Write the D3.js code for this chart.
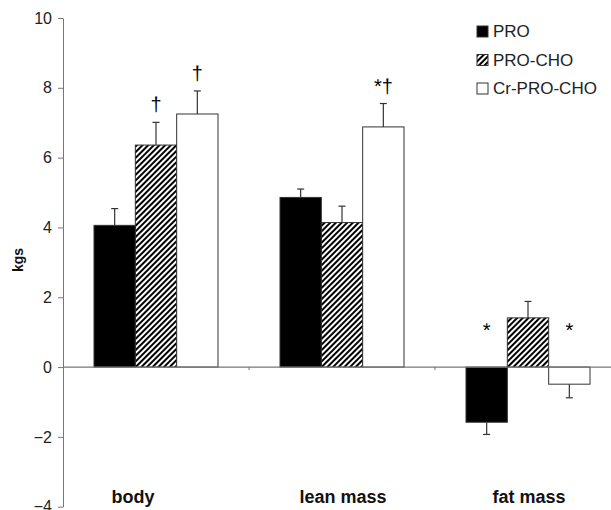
<!DOCTYPE html>
<html>
<head>
<meta charset="utf-8">
<script src="https://cdn.jsdelivr.net/npm/d3@7"></script>
<style>
  body { margin: 0; background: #fff; }
  svg { display: block; font-family: "Liberation Sans", Arial, sans-serif; }
</style>
</head>
<body>
<div id="chart"></div>
<script>
// chart values
const categories = ["body", "lean mass", "fat mass"];
const seriesNames = ["PRO", "PRO-CHO", "Cr-PRO-CHO"];

const proValues = [4.06, 4.86, -1.58];
const proErrors = [0.48, 0.24, 0.35];
const proChoValues = [6.36, 4.14, 1.41];
const proChoErrors = [0.65, 0.47, 0.47];
const crProChoValues = [7.25, 6.88, -0.49];
const crProChoErrors = [0.66, 0.67, 0.39];

// significance marks above the bars
const proMarks = ["", "", "*"];
const proChoMarks = ["\u2020", "", ""];
const crProChoMarks = ["\u2020", "*\u2020", "*"];

const yTicks = [-4, -2, 0, 2, 4, 6, 8, 10];

const width = 611;
const height = 510;

const svg = d3.select("#chart")
  .append("svg")
  .attr("width", width)
  .attr("height", height);

// hatch for the PRO-CHO series
svg.append("defs")
  .append("pattern")
  .attr("id", "hatch")
  .attr("patternUnits", "userSpaceOnUse")
  .attr("width", 4)
  .attr("height", 4)
  .attr("patternTransform", "rotate(45)")
  .append("rect")
  .attr("width", 2)
  .attr("height", 4)
  .attr("fill", "#000");

const fills = ["#000", "url(#hatch)", "#fff"];

const series = seriesNames.map((name, i) => ({
  name: name,
  fill: fills[i],
  values: [proValues, proChoValues, crProChoValues][i],
  errors: [proErrors, proChoErrors, crProChoErrors][i],
  marks: [proMarks, proChoMarks, crProChoMarks][i]
}));

const y = d3.scaleLinear().domain([-4, 10]).range([506.7, 18]);

const x0 = d3.scaleBand()
  .domain(categories)
  .range([63, 621])
  .padding(0);

const groupWidth = 124;
const x1 = d3.scaleBand()
  .domain(seriesNames)
  .range([0, groupWidth]);
const groupOffset = (x0.bandwidth() - groupWidth) / 2;

// y axis
const yAxis = svg.append("g")
  .attr("transform", "translate(63,0)")
  .call(d3.axisLeft(y).tickValues(yTicks).tickSize(5).tickPadding(6).tickSizeOuter(0));
yAxis.select(".domain").attr("stroke", "#777");
yAxis.selectAll(".tick line").attr("stroke", "#777");
yAxis.selectAll(".tick text")
  .attr("fill", "#222")
  .style("font-size", "16px")
  .style("font-family", "Liberation Sans, Arial, sans-serif");

svg.append("text")
  .attr("transform", "rotate(-90)")
  .attr("x", -260)
  .attr("y", 23)
  .attr("text-anchor", "middle")
  .attr("font-size", "14px")
  .attr("font-weight", "bold")
  .attr("fill", "#111")
  .text("kgs");

// bars
const groups = svg.selectAll("g.group")
  .data(categories)
  .enter()
  .append("g")
  .attr("class", "group")
  .attr("transform", (d) => `translate(${x0(d) + groupOffset},0)`);

groups.each(function (cat, ci) {
  const g = d3.select(this);
  series.forEach((s) => {
    const v = s.values[ci];
    const e = s.errors[ci];
    const bx = x1(s.name);
    const bw = x1.bandwidth();
    const cx = bx + bw / 2;

    g.append("rect")
      .attr("x", bx)
      .attr("y", y(Math.max(0, v)))
      .attr("width", bw)
      .attr("height", Math.abs(y(v) - y(0)))
      .attr("fill", s.fill)
      .attr("stroke", "#333")
      .attr("stroke-width", 1);

    // one-sided error bar
    const tip = v >= 0 ? v + e : v - e;
    g.append("line")
      .attr("x1", cx).attr("x2", cx)
      .attr("y1", y(v)).attr("y2", y(tip))
      .attr("stroke", "#333")
      .attr("stroke-width", 1.2);
    g.append("line")
      .attr("x1", cx - 3.5).attr("x2", cx + 3.5)
      .attr("y1", y(tip)).attr("y2", y(tip))
      .attr("stroke", "#333")
      .attr("stroke-width", 1.2);

    const mark = s.marks[ci];
    if (mark) {
      const markY = v >= 0 ? y(v + e) - 11 : y(0) - 30;
      g.append("text")
        .attr("x", cx)
        .attr("y", markY)
        .attr("text-anchor", "middle")
        .attr("font-family", "Liberation Sans, Arial, sans-serif")
        .attr("font-size", "20px")
        .attr("fill", "#000")
        .style("text-rendering", "geometricPrecision")
        .text(mark);
    }
  });
});

// zero line with small ticks between categories
svg.append("line")
  .attr("x1", 63).attr("x2", width)
  .attr("y1", y(0)).attr("y2", y(0))
  .attr("stroke", "#777")
  .attr("stroke-width", 1.2);

svg.selectAll("line.sep")
  .data(categories.slice(1))
  .enter()
  .append("line")
  .attr("class", "sep")
  .attr("x1", (d) => x0(d)).attr("x2", (d) => x0(d))
  .attr("y1", y(0)).attr("y2", y(0) + 3)
  .attr("stroke", "#777");

// category labels
const labelDx = [-23, 1, 1];
svg.selectAll("text.cat")
  .data(categories)
  .enter()
  .append("text")
  .attr("class", "cat")
  .attr("x", (d, i) => x0(d) + x0.bandwidth() / 2 + labelDx[i])
  .attr("y", 503)
  .attr("text-anchor", "middle")
  .attr("font-size", "18px")
  .attr("font-weight", "bold")
  .attr("fill", "#111")
  .text((d) => d);

// legend
const legend = svg.append("g")
  .attr("transform", "translate(477,26)");

const items = legend.selectAll("g")
  .data(series)
  .enter()
  .append("g")
  .attr("transform", (d, i) => `translate(0,${i * 28.5})`);

items.append("rect")
  .attr("width", 11)
  .attr("height", 11)
  .attr("fill", (d) => d.fill)
  .attr("stroke", "#333");

items.append("text")
  .attr("x", 16)
  .attr("y", 11)
  .attr("font-size", "17px")
  .attr("fill", "#222")
  .text((d) => d.name);
</script>
</body>
</html>
